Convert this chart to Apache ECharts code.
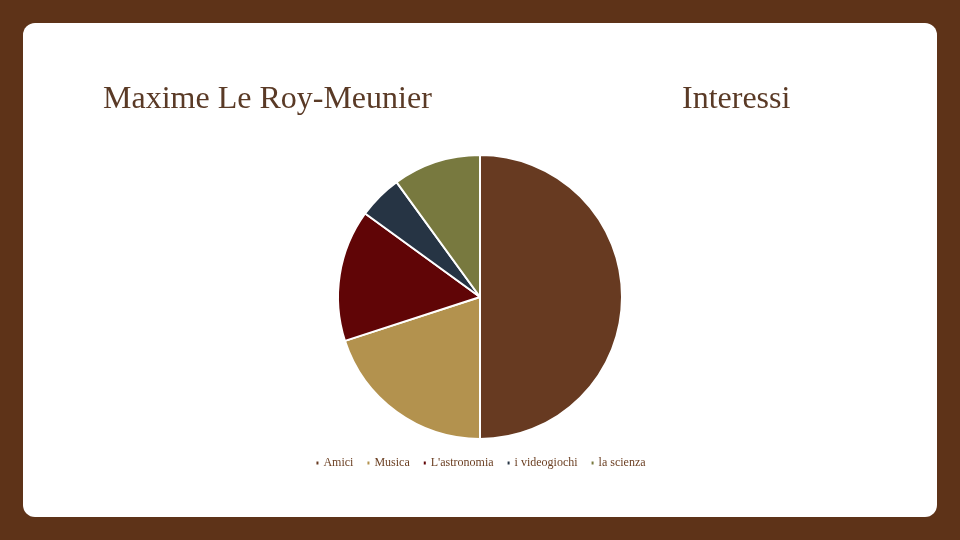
<!DOCTYPE html>
<html>
<head>
<meta charset="utf-8">
<script src="https://cdn.jsdelivr.net/npm/echarts@6/dist/echarts.min.js"></script>
<style>
  html, body { margin: 0; padding: 0; background: #5e3318; }
  #main { width: 960px; height: 540px; }
</style>
</head>
<body>
<div id="main"></div>
<script>
// dati del grafico
var categories = ['Amici', 'Musica', "L'astronomia", 'i videogiochi', 'la scienza'];
var values = [50, 20, 15, 5, 10];
var colors = ['#673a21', '#b3924e', '#600506', '#263444', '#78793f'];

var chart = echarts.init(document.getElementById('main'));
var data = categories.map(function (name, i) {
    return { name: name, value: values[i], itemStyle: { color: colors[i] } };
});

chart.setOption({
    backgroundColor: '#5e3318',
    animation: false,
    graphic: [
        {
            type: 'rect',
            z: -10,
            shape: { x: 23, y: 23, width: 914, height: 494, r: 12 },
            style: { fill: '#ffffff' }
        },
        {
            type: 'text',
            left: 103,
            top: 84,
            style: { text: 'Maxime Le Roy-Meunier', font: '32px "Liberation Serif", serif', fill: '#5a3a26' }
        },
        {
            type: 'text',
            left: 682,
            top: 84,
            style: { text: 'Interessi', font: '32px "Liberation Serif", serif', fill: '#5a3a26' }
        }
    ],
    legend: {
        bottom: 66,
        left: 'center',
        icon: 'rect',
        itemWidth: 4,
        itemHeight: 5,
        itemGap: 12,
        textStyle: { fontFamily: 'Liberation Serif, serif', fontSize: 12, color: '#6b3f22', padding: [0, 0, 0, -1] },
        data: categories
    },
    series: [
        {
            type: 'pie',
            center: [480, 297],
            radius: [0, 142],
            startAngle: 90,
            clockwise: true,
            label: { show: false },
            labelLine: { show: false },
            itemStyle: { borderColor: '#ffffff', borderWidth: 2 },
            data: data
        }
    ]
});
</script>
</body>
</html>
